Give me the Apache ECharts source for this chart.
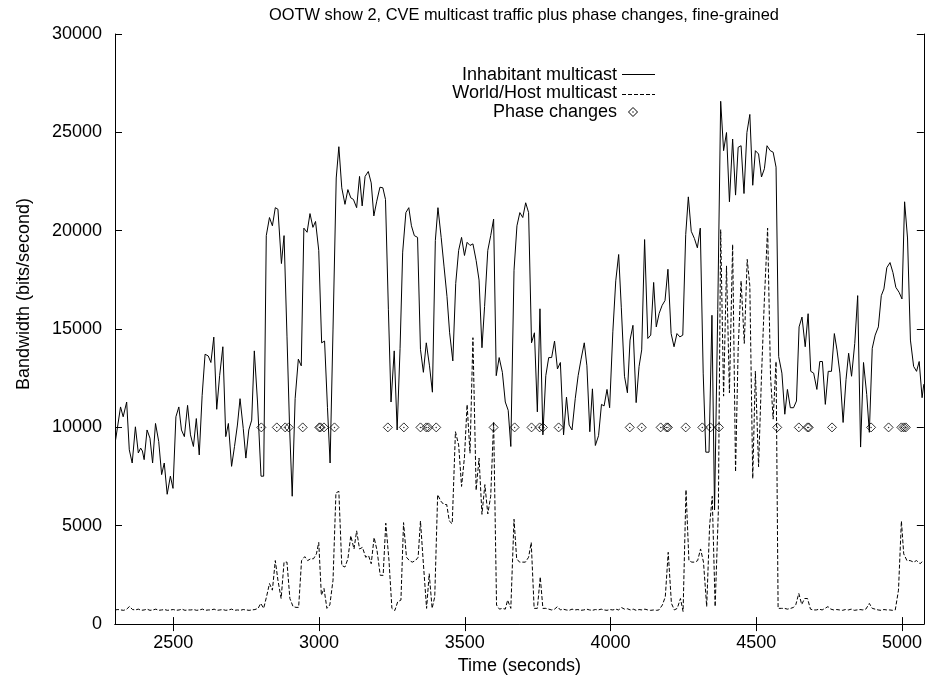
<!DOCTYPE html>
<html>
<head>
<meta charset="utf-8">
<script src="https://cdn.jsdelivr.net/npm/echarts@6/dist/echarts.min.js"></script>
<style>html,body{margin:0;padding:0;background:#fff}#c{width:925px;height:680px}</style>
</head>
<body>
<div id="c"></div>
<script>
// ---------- DATA ----------
const titleText = 'OOTW show 2, CVE multicast traffic plus phase changes, fine-grained';
const xTicks = [2500, 3000, 3500, 4000, 4500, 5000];

const inhabitantTime = [
 2302,2319,2328,2340,2349,2359,2370,2380,2388,2394,
 2400,2410,2420,2429,2439,2450,2460,2469,2479,2490,
 2499,2509,2519,2528,2538,2549,2559,2569,2579,2589,
 2599,2609,2620,2629,2639,2649,2659,2670,2680,2689,
 2700,2710,2720,2729,2740,2749,2759,2769,2778,2789,
 2801,2810,2819,2830,2840,2850,2859,2871,2880,2890,
 2899,2908,2918,2929,2939,2948,2959,2969,2979,2988,
 2999,3009,3019,3029,3038,3048,3059,3068,3078,3089,
 3099,3109,3118,3129,3139,3148,3158,3169,3179,3188,
 3198,3209,3219,3228,3238,3247,3258,3268,3278,3287,
 3298,3308,3317,3327,3338,3348,3358,3368,3379,3389,
 3399,3408,3419,3429,3439,3448,3459,3469,3479,3489,
 3499,3508,3518,3528,3539,3549,3559,3568,3579,3589,
 3599,3608,3618,3629,3639,3649,3658,3669,3679,3689,
 3699,3709,3719,3729,3739,3749,3758,3768,3778,3788,
 3798,3808,3818,3828,3839,3849,3858,3868,3879,3889,
 3899,3910,3919,3929,3938,3948,3959,3969,3978,3988,
 3997,4008,4018,4028,4037,4048,4058,4067,4077,4088,
 4098,4107,4117,4128,4138,4148,4157,4167,4177,4187,
 4197,4208,4218,4228,4238,4248,4258,4267,4277,4288,
 4298,4308,4318,4327,4338,4348,4357,4368,4378,4388,
 4398,4408,4419,4429,4438,4448,4458,4468,4478,4488,
 4497,4508,4518,4528,4537,4548,4558,4568,4577,4588,
 4598,4607,4617,4628,4638,4647,4657,4668,4678,4687,
 4697,4708,4718,4727,4737,4747,4758,4768,4777,4787,
 4798,4808,4817,4827,4838,4848,4858,4868,4879,4888,
 4898,4908,4919,4929,4938,4948,4959,4969,4979,4990,
 5000,5009,5019,5029,5040,5050,5059,5069,5075
];
const inhabitantBw = [
 9360,11040,10540,11290,8860,8190,10030,8700,8950,8800,
 8360,9870,9450,8190,10200,9280,7600,8190,6600,7520,
 6900,10540,11040,9870,9530,11120,9620,9030,10450,8600,
 11630,13720,13630,13300,14590,10920,12630,14100,9530,10200,
 8020,9030,10120,11460,9950,8440,9870,10370,13890,11290,
 7520,7520,19750,20670,20250,21170,21090,18330,19750,14640,
 10000,6500,11460,13470,13130,20130,19920,20870,20170,20470,
 19000,14300,14390,11000,8190,15000,22680,24270,22180,21340,
 22090,21670,21590,21170,22760,21260,22760,23010,22430,20750,
 21500,22210,22180,21590,15980,11290,13890,9870,14000,18910,
 20920,21170,20250,19750,19660,13970,12800,14300,13130,11790,
 19500,21170,19660,18160,16650,14810,13380,17320,19000,19660,
 18740,19410,19250,19330,18490,17490,14050,16150,19000,19750,
 20590,12630,13550,12800,11290,10870,9030,17990,20250,20920,
 20670,21420,20920,14300,14810,10790,16030,9620,12630,13550,
 13550,14390,12970,13300,9620,11540,10120,9870,11460,12630,
 13470,14300,13130,9780,11960,9080,9580,11170,11090,11930,
 11000,14860,17450,18790,16110,12600,11760,14440,15190,11260,
 13100,13940,19550,14520,14690,17370,15110,15800,16200,16450,
 18040,14770,14100,14770,14600,14690,19800,21720,19970,19600,
 19130,20130,12760,8740,8740,15700,5800,16000,26580,24070,
 24990,21470,24660,21810,24240,24320,21890,24990,25910,22310,
 24070,23900,22730,23150,24320,24070,23990,23230,13600,12760,
 10670,11930,11000,11000,11340,15110,15610,14100,15780,12850,
 12760,11930,13350,13350,11170,12850,12850,14770,13940,12760,
 10250,12430,13770,12600,14270,16700,9000,13300,11680,9750,
 14020,14690,15110,16700,17040,18120,18380,17870,17120,16870,
 16530,21470,19630,14440,13100,12850,13350,11510,12200
];

const worldTime = [
 2300,2310,2320,2330,2340,2350,2360,2370,2380,2390,
 2400,2410,2420,2430,2440,2450,2460,2470,2480,2490,
 2500,2510,2520,2530,2540,2550,2560,2570,2580,2590,
 2600,2610,2620,2630,2640,2650,2660,2670,2680,2690,
 2700,2710,2720,2730,2740,2750,2760,2770,2780,2791,
 2800,2810,2820,2830,2840,2850,2859,2870,2880,2890,
 2900,2911,2921,2930,2940,2951,2961,2971,2981,2991,
 2999,3008,3017,3027,3037,3048,3058,3068,3078,3089,
 3099,3109,3120,3129,3139,3149,3160,3170,3179,3189,
 3199,3210,3220,3229,3240,3250,3260,3270,3281,3290,
 3300,3310,3320,3331,3340,3348,3358,3369,3378,3388,
 3397,3407,3418,3428,3438,3447,3457,3468,3479,3489,
 3499,3508,3518,3528,3539,3549,3559,3569,3579,3589,
 3599,3609,3619,3629,3639,3647,3658,3669,3678,3688,
 3698,3708,3719,3728,3738,3749,3759,3768,3778,3788,
 3798,3808,3818,3828,3838,3848,3858,3868,3878,3888,
 3898,3908,3918,3928,3938,3948,3958,3968,3978,3988,
 3998,4008,4018,4028,4038,4048,4058,4068,4078,4088,
 4098,4108,4118,4128,4138,4148,4158,4166,4178,4188,
 4198,4209,4219,4229,4240,4249,4259,4269,4279,4290,
 4299,4309,4319,4330,4340,4349,4359,4370,4378,4388,
 4398,4408,4419,4429,4438,4448,4459,4469,4478,4488,
 4497,4508,4518,4528,4539,4549,4558,4568,4575,4587,
 4597,4607,4618,4628,4636,4646,4656,4666,4676,4686,
 4696,4706,4716,4726,4736,4746,4756,4766,4776,4786,
 4796,4806,4816,4826,4836,4846,4856,4866,4876,4888,
 4898,4908,4918,4928,4938,4948,4958,4968,4977,4988,
 4998,5006,5017,5028,5040,5050,5062,5074
];
const worldBw = [
 720,740,720,700,760,900,740,720,760,700,
 720,760,700,720,760,700,720,740,700,720,
 740,700,720,760,700,720,720,740,700,720,
 760,700,720,720,760,700,720,740,700,720,
 760,700,720,700,740,720,700,720,740,800,
 1055,800,1400,2060,1725,3230,2230,1300,3150,3150,
 1300,890,850,850,3230,3430,3230,3320,3320,3570,
 4150,1470,1810,800,970,2230,6670,6750,2980,2900,
 3320,4490,3820,4740,3820,3900,3400,3480,3070,4400,
 3740,2480,2480,5130,3230,800,690,1140,1220,5160,
 3400,3230,3150,3230,3400,5240,3070,800,2560,800,
 1390,6580,6250,6080,6080,5240,5100,9780,9110,7000,
 8500,11160,8690,14560,6800,8440,5580,7090,5600,6500,
 10300,970,760,800,760,1220,800,5330,3320,3150,
 3150,3150,3400,4150,800,800,2400,800,800,760,
 720,760,890,720,760,720,700,760,720,740,
 700,720,760,720,700,740,720,760,720,700,
 740,720,760,720,840,760,780,720,760,700,
 740,720,760,720,700,720,700,720,970,1390,
 3650,1055,720,800,1300,640,6830,3230,3150,3150,
 3230,3820,3150,890,4990,6500,890,5750,20050,11590,
 18210,11760,19300,7740,14000,17450,14270,18540,17200,7400,
 12850,8000,12600,16530,20130,12600,10420,13350,800,800,
 800,760,800,850,1000,1560,1000,1300,1300,760,
 720,720,760,720,800,890,760,720,740,720,
 700,740,720,760,700,720,740,720,760,1050,
 800,760,720,700,740,720,720,700,720,1725,
 5240,3570,3230,3230,3150,3230,3070,3230
];

const phaseTime = [
 2802,2855,2884,2896,2944,3001,3005,3017,3053,3236,
 3291,3348,3368,3375,3402,3599,3671,3729,3757,3768,
 3822,4066,4107,4172,4192,4197,4258,4315,4343,4372,
 4572,4646,4676,4680,4760,4894,4954,4998,5006,5013
];
const phaseBw = [
 10000,10000,10000,10000,10000,10000,10000,10000,10000,10000,
 10000,10000,10000,10000,10000,10000,10000,10000,10000,10000,
 10000,10000,10000,10000,10000,10000,10000,10000,10000,10000,
 10000,10000,10000,10000,10000,10000,10000,10000,10000,10000
];

const seriesNames = ['Inhabitant multicast', 'World/Host multicast', 'Phase changes'];

// ---------- CHART ----------
const FONT = 'Liberation Sans, Arial, Helvetica, sans-serif';
const pairs = (xs, ys) => xs.map((x, i) => [x, ys[i]]);
const phasePts = pairs(phaseTime, phaseBw);
const plain = v => String(v);

const chart = echarts.init(document.getElementById('c'), null, {renderer: 'canvas'});
const axisLine = {show: true, lineStyle: {color: '#000', width: 1}};
const txt = {color: '#000', fontFamily: FONT, fontSize: 18};

chart.setOption({
  animation: false,
  backgroundColor: '#fff',
  title: {
    text: titleText, left: 519, top: 2, textAlign: 'center',
    textStyle: {color: '#000', fontFamily: FONT, fontSize: 16.4, fontWeight: 'normal'}
  },
  grid: {left: 115, right: 1, top: 34, bottom: 49, containLabel: false},
  xAxis: [{
    type: 'value', min: 2300, max: 5075, position: 'bottom',
    axisLine: axisLine,
    axisTick: {show: true, inside: true, length: 7, customValues: xTicks, lineStyle: {color: '#000'}},
    axisLabel: {show: true, customValues: xTicks, margin: 10, formatter: plain, ...txt},
    splitLine: {show: false},
    name: 'Time (seconds)', nameLocation: 'middle', nameGap: 28, nameTextStyle: txt
  }, {
    type: 'value', min: 2300, max: 5075, position: 'top',
    axisLine: axisLine,
    axisTick: {show: true, inside: true, length: 7, customValues: xTicks, lineStyle: {color: '#000'}},
    axisLabel: {show: false}, splitLine: {show: false}
  }],
  yAxis: [{
    type: 'value', min: 0, max: 30000, interval: 5000, position: 'left',
    axisLine: axisLine,
    axisTick: {show: true, inside: true, length: 7, lineStyle: {color: '#000'}},
    axisLabel: {margin: 13, formatter: plain, ...txt},
    splitLine: {show: false},
    name: 'Bandwidth (bits/second)', nameLocation: 'middle', nameGap: 82,
    nameTextStyle: {color: '#000', fontFamily: FONT, fontSize: 18, padding: [0, 0, 0, 70]}
  }, {
    type: 'value', min: 0, max: 30000, interval: 5000, position: 'right',
    axisLine: axisLine,
    axisTick: {show: true, inside: true, length: 7, lineStyle: {color: '#000'}},
    axisLabel: {show: false}, splitLine: {show: false}
  }],
  series: [{
    name: seriesNames[0], type: 'line', xAxisIndex: 0, yAxisIndex: 0,
    data: pairs(inhabitantTime, inhabitantBw), showSymbol: false, symbol: 'none',
    lineStyle: {color: '#000', width: 1}, z: 3
  }, {
    name: seriesNames[1], type: 'line', xAxisIndex: 0, yAxisIndex: 0,
    data: pairs(worldTime, worldBw), showSymbol: false, symbol: 'none',
    lineStyle: {color: '#000', width: 1, type: [4, 2]}, z: 2
  }, {
    name: seriesNames[2], type: 'scatter', xAxisIndex: 0, yAxisIndex: 0,
    data: phasePts, symbol: 'diamond', symbolSize: 9,
    itemStyle: {color: 'rgba(255,255,255,0)', borderColor: '#000', borderWidth: 1}, z: 4
  }, {
    name: seriesNames[2] + ' dot', type: 'scatter', xAxisIndex: 0, yAxisIndex: 0,
    data: phasePts, symbol: 'circle', symbolSize: 1.5,
    itemStyle: {color: '#000'}, z: 5, silent: true
  }],
  graphic: [
    {type: 'text', x: 617, y: 75, style: {text: seriesNames[0], align: 'right', verticalAlign: 'middle', fill: '#000', font: '18px ' + FONT}},
    {type: 'line', shape: {x1: 622, y1: 74.5, x2: 655, y2: 74.5}, style: {stroke: '#000', lineWidth: 1}},
    {type: 'text', x: 617, y: 93.5, style: {text: seriesNames[1], align: 'right', verticalAlign: 'middle', fill: '#000', font: '18px ' + FONT}},
    {type: 'line', shape: {x1: 622, y1: 94.5, x2: 655, y2: 94.5}, style: {stroke: '#000', lineWidth: 1, lineDash: [4, 2]}},
    {type: 'text', x: 617, y: 112, style: {text: seriesNames[2], align: 'right', verticalAlign: 'middle', fill: '#000', font: '18px ' + FONT}},
    {type: 'polygon', shape: {points: [[633, 107.5], [637.5, 112], [633, 116.5], [628.5, 112]]}, style: {fill: 'none', stroke: '#000', lineWidth: 1}},
    {type: 'circle', shape: {cx: 633, cy: 112, r: 0.7}, style: {fill: '#000'}}
  ]
});
</script>
</body>
</html>
